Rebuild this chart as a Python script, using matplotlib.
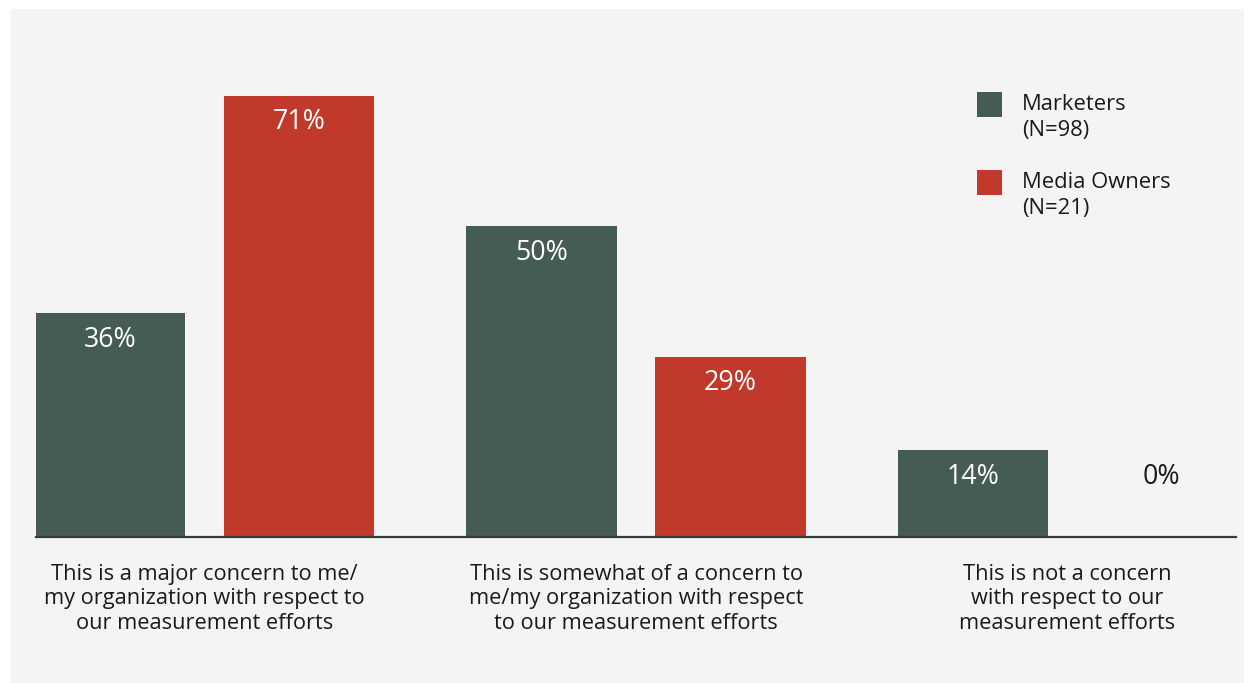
import matplotlib
matplotlib.use("Agg")
import matplotlib.pyplot as plt
from matplotlib.patches import Rectangle

plt.rcParams['font.family'] = ['Open Sans', 'DejaVu Sans']

categories = [
    "This is a major concern to me/\nmy organization with respect to\nour measurement efforts",
    "This is somewhat of a concern to\nme/my organization with respect\nto our measurement efforts",
    "This is not a concern\nwith respect to our\nmeasurement efforts",
]
marketers = [36, 50, 14]
media_owners = [71, 29, 0]
series_names = ["Marketers\n(N=98)", "Media Owners\n(N=21)"]

green = "#445c52"
red = "#c0392b"
bg = "#f4f4f4"
W, H = 1252, 683

fig = plt.figure(figsize=(W / 100, H / 100), dpi=100, facecolor="white")

# grey panel behind everything
fig.patches.append(Rectangle((11 / W, 0), (1244 - 11) / W, (H - 9) / H,
                             transform=fig.transFigure, facecolor=bg,
                             edgecolor="none", zorder=-5))

# axes: baseline at 537 px, 6.215 px per percent
base = 537
top = base - 80 * 6.215
ax = fig.add_axes([36 / W, (H - base) / H, 1200 / W, (base - top) / H])
ax.set_facecolor("none")
ax.set_zorder(2)

x = list(range(len(categories)))
w = 0.348
off = 0.219
bars1 = ax.bar([i - off for i in x], marketers, w, color=green, zorder=2)
bars2 = ax.bar([i + off for i in x], media_owners, w, color=red, zorder=2)

ax.set_xlim(-0.391, 2.391)
ax.set_ylim(0, 80)

for s in ["top", "right", "left"]:
    ax.spines[s].set_visible(False)
ax.spines["bottom"].set_color("#3a3a3a")
ax.spines["bottom"].set_linewidth(1.6)
ax.set_yticks([])
ax.set_xticks([])

for bars, vals in [(bars1, marketers), (bars2, media_owners)]:
    for b, v in zip(bars, vals):
        cx = b.get_x() + b.get_width() / 2
        if v > 0:
            ax.text(cx, v - 4.3, f"{v}%", ha="center", va="center",
                    color="white", fontsize=19.3)
        else:
            ax.text(cx, 14 - 4.3, f"{v}%", ha="center", va="center",
                    color="#1a1a1a", fontsize=19.3)

for i, c in enumerate(categories):
    ax.text(i, -4.3, c, ha="center", va="top", color="#1a1a1a",
            fontsize=15.7, linespacing=1.22, transform=ax.transData)

# legend
def fx(px):
    return px / W

def fy(py):
    return 1 - py / H

for (ytop, col, name) in [(92, green, series_names[0]), (170, red, series_names[1])]:
    fig.patches.append(Rectangle((fx(977), fy(ytop + 25)), 25 / W, 25 / H,
                                 transform=fig.transFigure, facecolor=col,
                                 edgecolor="none", zorder=3))
    fig.text(fx(1022), fy(ytop + 2), name, ha="left", va="top",
             fontsize=15.8, color="#1a1a1a", linespacing=1.3)

fig.savefig("out.png", dpi=100, facecolor="white")
